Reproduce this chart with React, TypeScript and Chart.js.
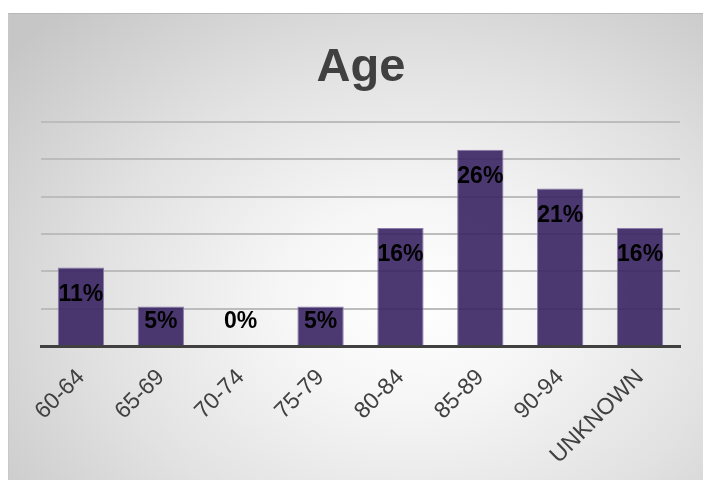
import React, { useEffect, useRef } from "react";
import { Chart, registerables } from "chart.js";

Chart.register(...registerables);

const categories = ["60-64", "65-69", "70-74", "75-79", "80-84", "85-89", "90-94", "UNKNOWN"];
const percentValues = [10.5, 5.3, 0, 5.3, 15.8, 26.3, 21.1, 15.8];
const valueLabels = ["11%", "5%", "0%", "5%", "16%", "26%", "21%", "16%"];
const titleText = "Age";

const overlayPlugin = {
  id: "overlay",
  afterDatasetsDraw(chart: any) {
    const ctx = chart.ctx;
    const meta = chart.getDatasetMeta(0);
    const base = chart.scales.y.getPixelForValue(0);
    ctx.save();
    ctx.fillStyle = "#000000";
    ctx.font = "bold 23px 'Liberation Sans', Arial, sans-serif";
    ctx.textAlign = "center";
    ctx.textBaseline = "middle";
    meta.data.forEach((bar: any, i: number) => {
      const y = Math.min(bar.y + 27, base - 24);
      ctx.fillText(valueLabels[i], bar.x, y);
    });
    ctx.fillStyle = "#404040";
    ctx.font = "bold 47px 'Liberation Sans', Arial, sans-serif";
    ctx.textBaseline = "alphabetic";
    ctx.fillText(titleText, 352, 67);
    ctx.restore();
  },
};

export default function App() {
  const ref = useRef<HTMLCanvasElement>(null);
  useEffect(() => {
    document.body.style.margin = "0";
    const chart = new Chart(ref.current!, {
      type: "bar",
      data: {
        labels: categories,
        datasets: [
          {
            data: percentValues,
            backgroundColor: "rgba(57,36,98,0.9)",
            borderColor: "#8c7cab",
            borderWidth: 1,
            categoryPercentage: 1,
            barPercentage: 0.58,
          },
        ],
      },
      options: {
        animation: false,
        responsive: false,
        maintainAspectRatio: false,
        layout: { padding: { left: 32, right: 23, top: 108, bottom: 0 } },
        plugins: { legend: { display: false }, tooltip: { enabled: false }, title: { display: false } },
        scales: {
          x: {
            grid: { display: false },
            border: { display: true, color: "#404040", width: 3 },
            ticks: {
              color: "#404040",
              font: { size: 23, family: "'Liberation Sans', Arial, sans-serif" },
              minRotation: 45,
              maxRotation: 45,
              autoSkip: false,
              padding: 10,
            },
            afterFit: (s: any) => {
              s.height = 134;
            },
          },
          y: {
            min: 0,
            max: 30,
            ticks: { display: false, stepSize: 5 },
            border: { display: false },
            grid: {
              color: (c: any) => (c.tick && c.tick.value === 0 ? "rgba(0,0,0,0)" : "#bcbcbc"),
              lineWidth: 2,
              drawTicks: false,
            },
            afterFit: (s: any) => {
              s.width = 0;
            },
          },
        },
      },
      plugins: [overlayPlugin],
    });
    return () => chart.destroy();
  }, []);
  return (
    <div
      style={{
        position: "absolute",
        left: 8,
        top: 13,
        width: 695,
        height: 467,
        borderTop: "1px solid #b8b8b8",
        borderLeft: "1px solid #c8c8c8",
        boxSizing: "border-box",
        background:
          "radial-gradient(ellipse 75% 85% at 58% 62%, #ffffff 0%, #f6f6f6 25%, #e2e2e2 60%, #c6c6c6 100%)",
      }}
    >
      <canvas ref={ref} width={694} height={466} style={{ display: "block" }} />
    </div>
  );
}
